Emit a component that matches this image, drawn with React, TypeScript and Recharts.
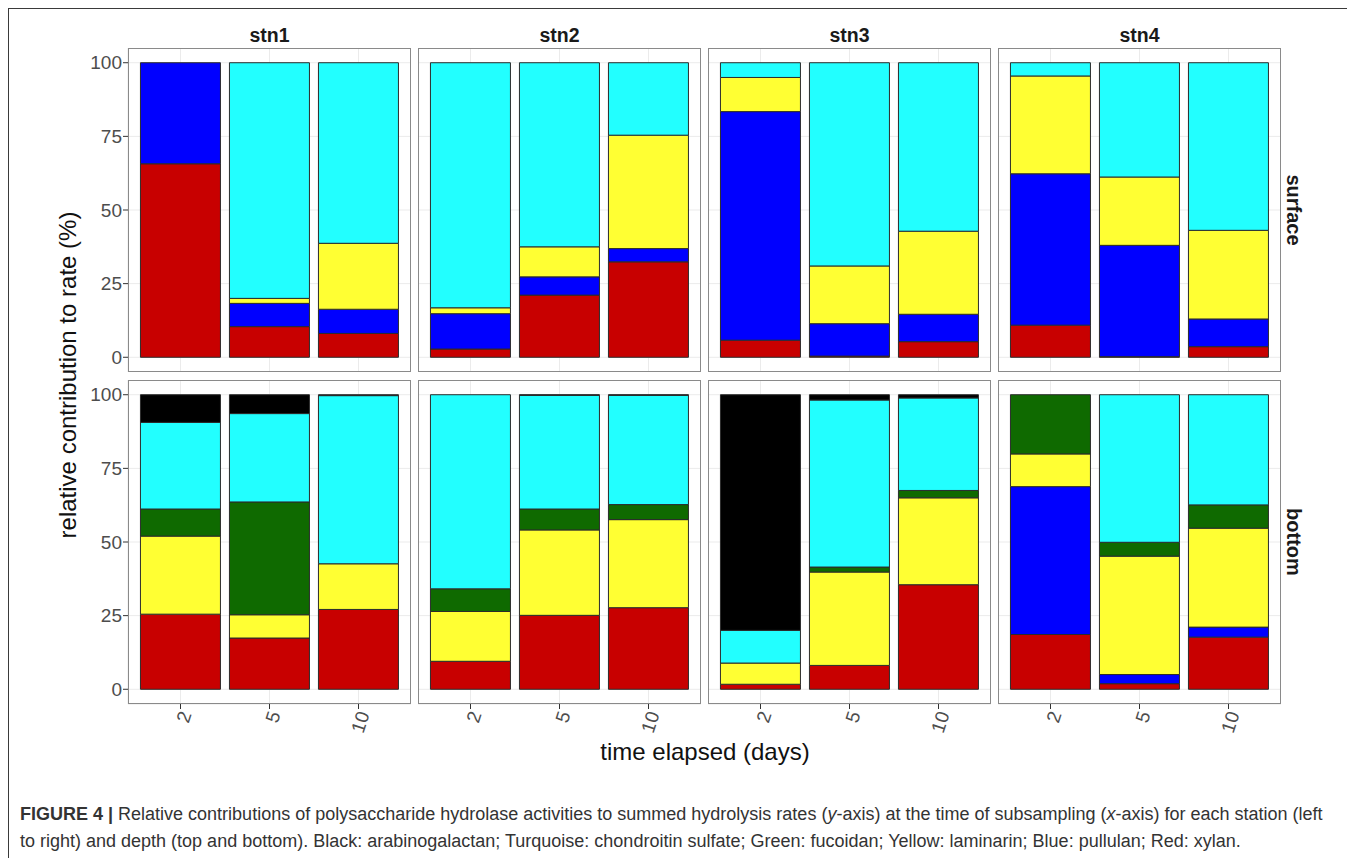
import React from "react"
import { BarChart, Bar, XAxis, YAxis, CartesianGrid } from "recharts"

const stations = ["stn1", "stn2", "stn3", "stn4"]
const depths = ["surface", "bottom"]
const days = ["2", "5", "10"]
const yTicks = [0, 25, 50, 75, 100]
const minorTicks = [12.5, 37.5, 62.5, 87.5]

// % contribution, 3 days per station: stn1 (2,5,10), stn2, stn3, stn4
const xylanSurface = [65.7, 10.4, 8.1, 2.8, 21.1, 32.4, 5.8, 0.4, 5.3, 10.9, 0.2, 3.6]
const pullulanSurface = [34.3, 7.9, 8.2, 12.0, 6.2, 4.5, 77.6, 11.0, 9.3, 51.4, 37.8, 9.4]
const laminarinSurface = [0, 1.7, 22.4, 2.0, 10.2, 38.5, 11.6, 19.6, 28.2, 33.2, 23.2, 30.1]
const fucoidanSurface = [0, 0, 0, 0, 0, 0, 0, 0, 0, 0, 0, 0]
const chondroitinSurface = [0, 80.0, 61.3, 83.2, 62.5, 24.6, 5.0, 69.0, 57.2, 4.5, 38.8, 56.9]
const arabinogalactanSurface = [0, 0, 0, 0, 0, 0, 0, 0, 0, 0, 0, 0]

const xylanBottom = [25.5, 17.4, 27.1, 9.5, 25.1, 27.7, 1.7, 8.1, 35.5, 18.6, 1.9, 17.7]
const pullulanBottom = [0, 0, 0, 0, 0, 0, 0, 0, 0, 50.2, 3.1, 3.4]
const laminarinBottom = [26.5, 7.9, 15.5, 16.9, 29.0, 29.9, 7.2, 31.7, 29.5, 11.1, 40.2, 33.6]
const fucoidanBottom = [9.2, 38.3, 0, 7.7, 7.1, 5.1, 0, 1.7, 2.5, 20.1, 4.7, 7.9]
const chondroitinBottom = [29.4, 30.0, 57.1, 65.9, 38.6, 37.1, 11.1, 56.7, 31.4, 0, 50.1, 37.4]
const arabinogalactanBottom = [9.4, 6.4, 0.3, 0, 0.2, 0.2, 80.0, 1.8, 1.1, 0, 0, 0]

const series = [
  { key: "xylan", color: "#c80000" },
  { key: "pullulan", color: "#0000ff" },
  { key: "laminarin", color: "#ffff33" },
  { key: "fucoidan", color: "#0f6a00" },
  { key: "chondroitin", color: "#22ffff" },
  { key: "arabinogalactan", color: "#000000" },
]

const valuesByDepth: Record<string, number[][]> = {
  surface: [xylanSurface, pullulanSurface, laminarinSurface, fucoidanSurface, chondroitinSurface, arabinogalactanSurface],
  bottom: [xylanBottom, pullulanBottom, laminarinBottom, fucoidanBottom, chondroitinBottom, arabinogalactanBottom],
}

const panelData = (depth: string, stn: number) =>
  days.map((day, i) => {
    const row: Record<string, string | number> = { day }
    series.forEach((s, k) => {
      row[s.key] = valuesByDepth[depth][k][stn * 3 + i]
    })
    return row
  })

const FONT = '"Liberation Sans", Arial, Helvetica, sans-serif'
const PANEL_X = [128, 418, 708, 998]
const PANEL_Y = [48, 380]
const PANEL_W = 283
const PANEL_H = 324
const Y_AXIS_W = 45
const X_AXIS_H = 45
const ORIGIN = 9

const DayTick = (props: any) => {
  const { x, y, payload } = props
  const ax = x + 5
  const ay = y + 1
  return (
    <text
      x={ax}
      y={ay}
      dy="0.35em"
      textAnchor="end"
      transform={`rotate(-72, ${ax}, ${ay})`}
      fill="#4d4d4d"
      fontSize={19}
      fontFamily={FONT}
    >
      {payload.value}
    </text>
  )
}

const Panel = ({ depth, stn, row }: { depth: string; stn: number; row: number }) => {
  const first = stn === 0
  const last = row === 1
  const w = PANEL_W + (first ? Y_AXIS_W : 0)
  const h = PANEL_H + (last ? X_AXIS_H : 0)
  return (
    <div
      style={{
        position: "absolute",
        left: PANEL_X[stn] - (first ? Y_AXIS_W : 0) - ORIGIN,
        top: PANEL_Y[row] - ORIGIN,
      }}
    >
      <BarChart
        width={w}
        height={h}
        data={panelData(depth, stn)}
        margin={{ top: 0, right: 0, bottom: 0, left: 0 }}
        barCategoryGap="5%"
      >
        <CartesianGrid yAxisId="minor" vertical={false} stroke="#f2f2f2" strokeWidth={0.7} />
        <CartesianGrid stroke="#ebebeb" strokeWidth={1} />
        <XAxis
          dataKey="day"
          type="category"
          hide={!last}
          height={X_AXIS_H}
          padding={{ left: 8, right: 8 }}
          axisLine={false}
          tickSize={5}
          tickLine={{ stroke: "#333" }}
          tick={<DayTick />}
          interval={0}
        />
        <YAxis
          type="number"
          domain={[-5, 105]}
          ticks={yTicks}
          hide={!first}
          width={Y_AXIS_W}
          axisLine={false}
          tickSize={5}
          tickMargin={1}
          tickLine={{ stroke: "#333" }}
          tick={{ fill: "#4d4d4d", fontSize: 19, fontFamily: FONT }}
          interval={0}
        />
        <YAxis yAxisId="minor" type="number" domain={[-5, 105]} ticks={minorTicks} hide />
        {series.map((s) => (
          <Bar
            key={s.key}
            dataKey={s.key}
            stackId="a"
            fill={s.color}
            stroke="#2b2b2b"
            strokeWidth={1}
            isAnimationActive={false}
          />
        ))}
      </BarChart>
      <div
        style={{
          position: "absolute",
          left: first ? Y_AXIS_W : 0,
          top: 0,
          width: PANEL_W,
          height: PANEL_H,
          border: "1px solid #8a8a8a",
          boxSizing: "border-box",
          pointerEvents: "none",
        }}
      />
    </div>
  )
}

const centered = (x: number, y: number, rotate: number, style: React.CSSProperties, text: string) => (
  <div
    key={text}
    style={{
      position: "absolute",
      left: x - ORIGIN,
      top: y - ORIGIN,
      transform: `translate(-50%, -50%) rotate(${rotate}deg)`,
      whiteSpace: "nowrap",
      fontFamily: FONT,
      ...style,
    }}
  >
    {text}
  </div>
)

export default function App() {
  return (
    <div
      style={{
        position: "relative",
        width: 1347,
        height: 850,
        borderTop: "1px solid #3a3a3a",
        borderLeft: "1px solid #3a3a3a",
        boxSizing: "border-box",
        background: "#fff",
        overflow: "hidden",
      }}
    >
      {depths.map((depth, r) =>
        stations.map((stn, c) => <Panel key={depth + stn} depth={depth} stn={c} row={r} />)
      )}
      {stations.map((stn, c) =>
        centered(PANEL_X[c] + PANEL_W / 2, 35, 0, { fontSize: 19.5, fontWeight: "bold", color: "#1a1a1a" }, stn)
      )}
      {depths.map((d, r) =>
        centered(1293, PANEL_Y[r] + PANEL_H / 2, 90, { fontSize: 20, fontWeight: "bold", color: "#1a1a1a" }, d)
      )}
      {centered(68, 375, -90, { fontSize: 24, color: "#111" }, "relative contribution to rate (%)")}
      {centered(705, 752, 0, { fontSize: 24, color: "#111" }, "time elapsed (days)")}
      <div
        style={{
          position: "absolute",
          left: 20 - ORIGIN,
          top: 801 - ORIGIN,
          fontFamily: FONT,
          fontSize: 18,
          lineHeight: "27px",
          color: "#333",
          width: 1330,
          whiteSpace: "nowrap",
        }}
      >
        <b>FIGURE 4 |</b> Relative contributions of polysaccharide hydrolase activities to summed hydrolysis rates (
        <i>y</i>-axis) at the time of subsampling (<i>x</i>-axis) for each station (left
        <br />
        to right) and depth (top and bottom). Black: arabinogalactan; Turquoise: chondroitin sulfate; Green: fucoidan;
        Yellow: laminarin; Blue: pullulan; Red: xylan.
      </div>
    </div>
  )
}
